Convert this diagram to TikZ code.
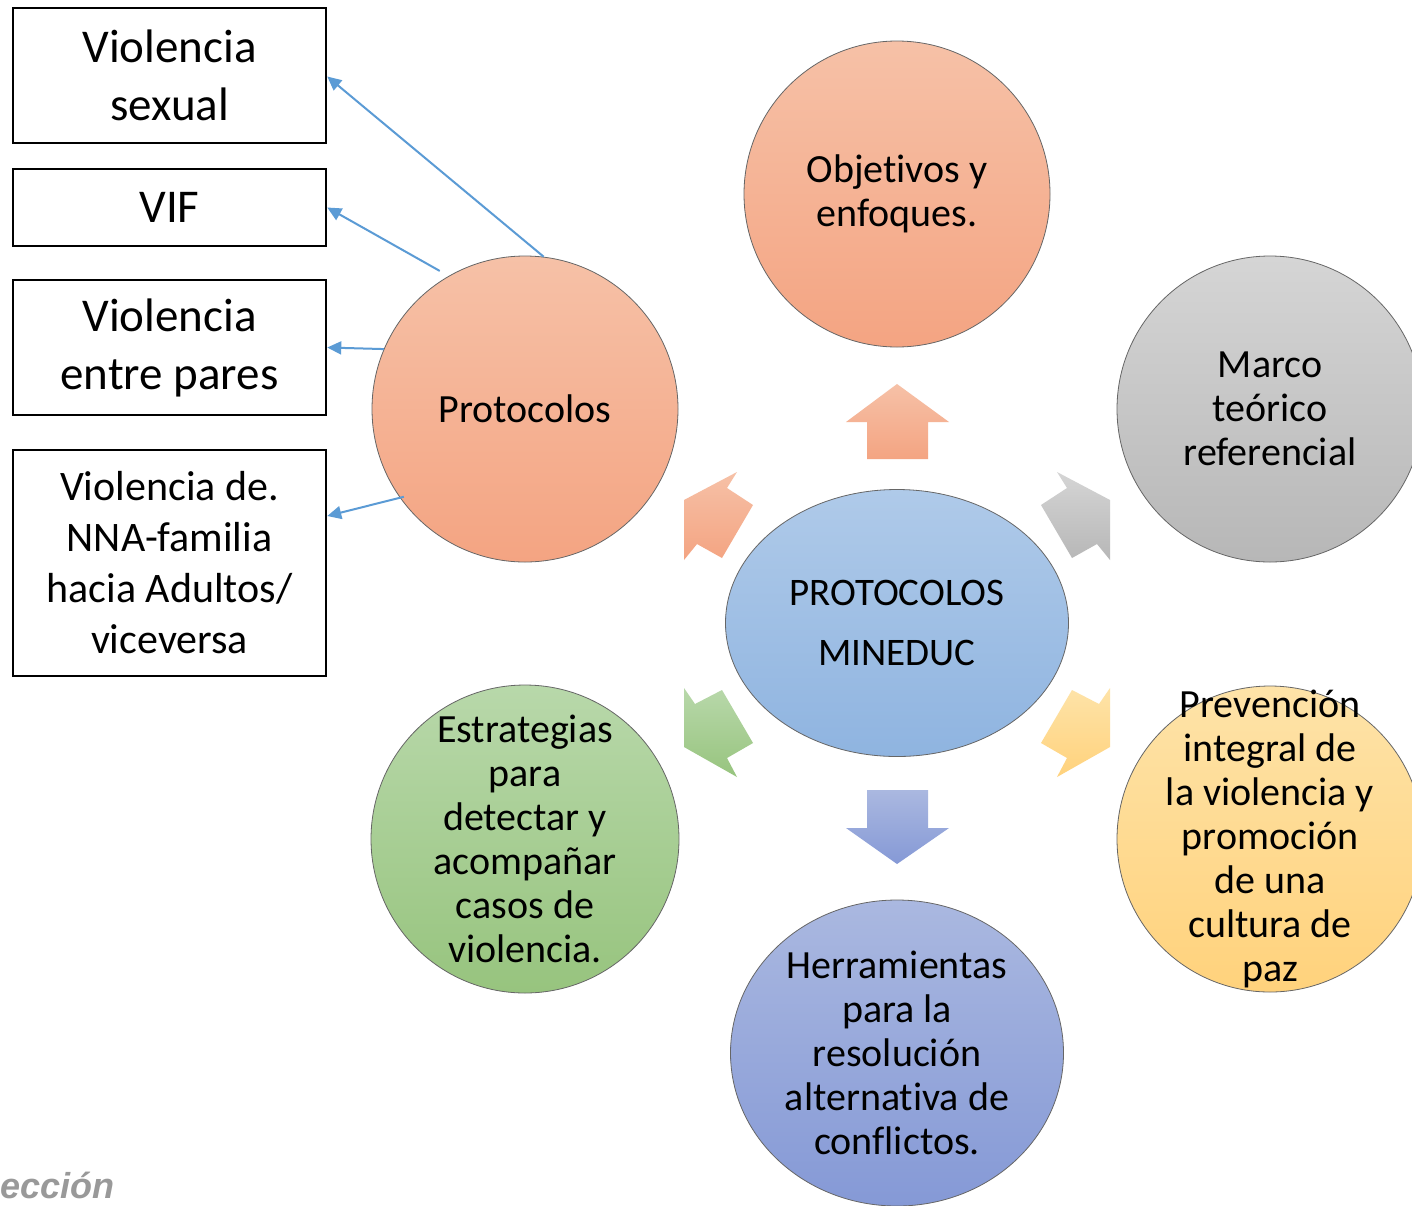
\documentclass[tikz,border=0pt]{standalone}
\usepackage{fontspec}
\setmainfont{Carlito}[Ligatures=NoCommon]
\newfontfamily\footfont{Liberation Sans}
\usetikzlibrary{shapes.geometric,arrows.meta}

\definecolor{salmonTop}{HTML}{F6C1A7}
\definecolor{salmonBot}{HTML}{F4A482}
\definecolor{greyTop}{HTML}{D5D5D5}
\definecolor{greyBot}{HTML}{B7B7B7}
\definecolor{blueTop}{HTML}{AFCAE9}
\definecolor{blueBot}{HTML}{8FB4E0}
\definecolor{yellowTop}{HTML}{FEE3A8}
\definecolor{yellowBot}{HTML}{FFD27C}
\definecolor{greenTop}{HTML}{B8D8AA}
\definecolor{greenBot}{HTML}{97C47E}
\definecolor{lilacTop}{HTML}{AAB8E0}
\definecolor{lilacBot}{HTML}{8599D6}
\definecolor{linkblue}{HTML}{5B9BD5}

\begin{document}
\begin{tikzpicture}[x=1pt,y=-1pt,
    topic/.style={circle, draw=black!60, line width=0.8pt, minimum size=306pt,
      inner sep=0pt, align=center, font=\fontsize{40}{44}\selectfont},
    kind/.style={rectangle, draw=black, line width=2.5pt, minimum width=313pt,
      inner sep=0pt, align=center},
    link/.style={linkblue, line width=2pt, -{Triangle[length=14pt,width=13pt]}}]
        \useasboundingbox (0,0) rectangle (1412,1205);
        \fill[white] (0,0) rectangle (1412,1205);
        \clip (0,0) rectangle (1412,1205);

        % block arrows round the centre
        \shade[top color=salmonTop, bottom color=salmonBot]
          (867,459) -- (867,422) -- (846,422) -- (897,384) -- (949,422) -- (928,422) -- (928,459) -- cycle;
        \shade[top color=lilacTop, bottom color=lilacBot]
          (867,790) -- (928,790) -- (928,828) -- (949,828) -- (897,864) -- (846,828) -- (867,828) -- cycle;
        \shade[top color=salmonTop, bottom color=salmonBot]
          (684,500) -- (737,472) -- (727,488) -- (753,505) -- (722,558) -- (697,544) -- (684,560) -- cycle;
        \shade[top color=greyTop, bottom color=greyBot]
          (1110,500) -- (1057,472) -- (1067,488) -- (1041,505) -- (1072,558) -- (1097,544) -- (1110,560) -- cycle;
        \shade[top color=greenTop, bottom color=greenBot]
          (684,688) -- (695,704) -- (722,690) -- (753,743) -- (727,758) -- (737,777) -- (684,747) -- cycle;
        \shade[top color=yellowTop, bottom color=yellowBot]
          (1110,688) -- (1099,704) -- (1072,690) -- (1041,743) -- (1067,758) -- (1057,777) -- (1110,747) -- cycle;

        % centre
        \node[ellipse, draw=black!60, line width=0.8pt, minimum width=343pt, minimum height=267pt,
          inner sep=0pt, top color=blueTop, bottom color=blueBot, align=center,
          font=\fontsize{39}{60}\selectfont] (mineduc) at (897,623) {PROTOCOLOS\\MINEDUC};

        % topics
        \node[topic, top color=salmonTop, bottom color=salmonBot] (objetivos) at (897,194)
          {Objetivos y\\enfoques.};
        \node[topic, top color=greyTop, bottom color=greyBot] (marco) at (1270,409)
          {Marco\\teórico\\referencial};
        \node[topic, top color=yellowTop, bottom color=yellowBot] (prevencion) at (1270,839) {};
        \node[align=center, inner sep=0pt, font=\fontsize{40}{44}\selectfont] (prevencionText)
          at (prevencion.center)
          {Prevención\\integral de\\la violencia y\\promoción\\de una\\cultura de\\paz};
        \node[topic, ellipse, minimum width=333pt, minimum height=306pt,
          top color=lilacTop, bottom color=lilacBot] (herramientas) at (897,1053)
          {Herramientas\\para la\\resolución\\alternativa de\\conflictos.};
        \node[topic, top color=greenTop, bottom color=greenBot] (estrategias) at (525,839)
          {Estrategias\\para\\detectar y\\acompañar\\casos de\\violencia.};
        \node[topic, top color=salmonTop, bottom color=salmonBot] (protocolos) at (525,409)
          {Protocolos};

        % kinds of violence
        \node[kind, minimum height=135pt, font=\fontsize{47}{58}\selectfont] (sexual) at (169.5,75.5)
          {Violencia\\sexual};
        \node[kind, minimum height=77pt, font=\fontsize{47}{58}\selectfont] (vif) at (169.5,207.5)
          {VIF};
        \node[kind, minimum height=135pt, font=\fontsize{47}{58}\selectfont] (pares) at (169.5,347.5)
          {Violencia\\entre pares};
        \node[kind, minimum height=226pt, font=\fontsize{42}{51}\selectfont] (familia) at (169.5,563)
          {Violencia de.\\NNA-familia\\hacia Adultos/\\viceversa};

        \draw[link] (protocolos.83) -- ([yshift=-1pt]sexual.east);
        \draw[link] ([shift={(-4pt,8pt)}]protocolos.122) -- (vif.east);
        \draw[link] (protocolos.157) -- (pares.east);
        \draw[link] ([shift={(6pt,-2pt)}]protocolos.214) -- ([yshift=47pt]familia.east);

        \node[anchor=base west, inner sep=0pt, text=black!40,
          font=\footfont\fontsize{36}{40}\selectfont\bfseries\itshape] (pie) at (0,1198) {ección};
      \end{tikzpicture}
\end{document}
